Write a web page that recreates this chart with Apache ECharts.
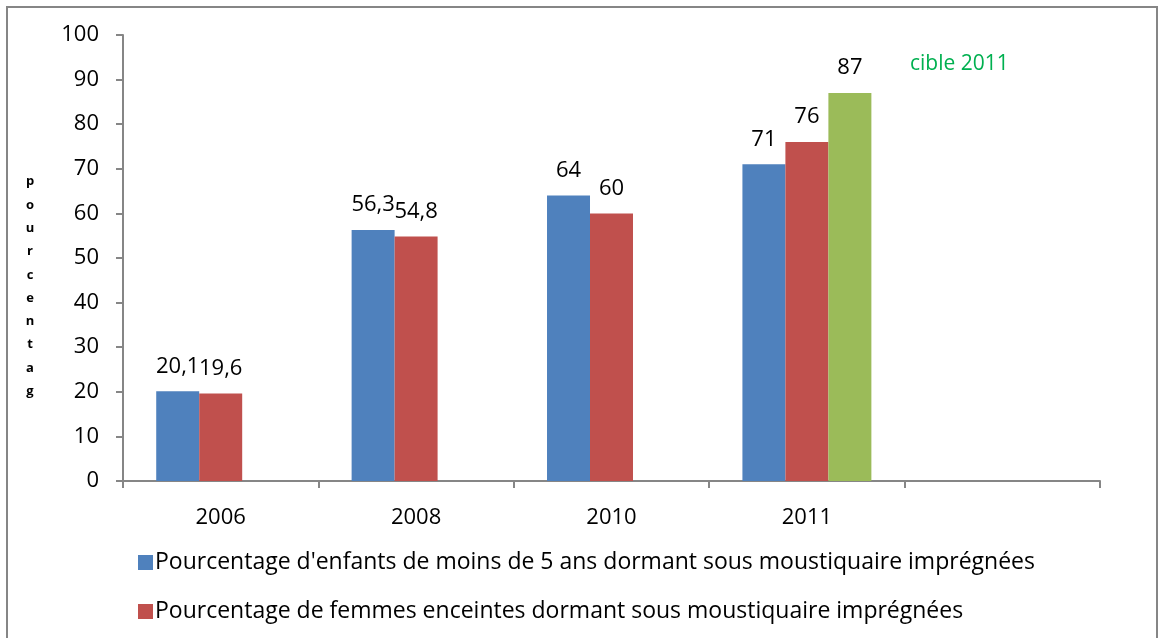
<!DOCTYPE html>
<html>
<head>
<meta charset="utf-8">
<script src="https://cdn.jsdelivr.net/npm/echarts@6/dist/echarts.min.js"></script>
<style>
  html, body { margin: 0; padding: 0; background: #fff; }
  #chart { width: 1159px; height: 638px; }
</style>
</head>
<body>
<div id="chart"></div>
<script>
const years = ['2006', '2008', '2010', '2011', '']
const enfants = [20.1, 56.3, 64, 71, null]
const femmes = [19.6, 54.8, 60, 76, null]
const cible = [null, null, null, 87, null]
const yTicks = { min: 0, max: 100, interval: 10 }

const nameEnfants = "Pourcentage d'enfants de moins de 5 ans dormant sous moustiquaire imprégnées"
const nameFemmes = 'Pourcentage de femmes enceintes dormant sous moustiquaire imprégnées'

const font = '"Open Sans", sans-serif'
const axisGray = '#868686'

const chart = echarts.init(document.getElementById('chart'))

const barLabel = {
  show: true,
  position: 'top',
  distance: 14,
  color: '#000',
  fontFamily: font,
  fontSize: 22,
  formatter: p => String(p.value).replace('.', ',')
}

const option = {
  animation: false,
  grid: { left: 123, right: 59, top: 35, bottom: 157 },
  graphic: [
    {
      type: 'rect',
      shape: { x: 7, y: 7, width: 1150, height: 660 },
      style: { fill: 'none', stroke: axisGray, lineWidth: 2 },
      silent: true
    },
    {
      type: 'text',
      x: 30,
      y: 170,
      style: {
        text: 'pourcentag'.split('').join('\n'),
        font: 'bold 13px ' + font,
        lineHeight: 23.3,
        textAlign: 'center',
        fill: '#000'
      }
    },
    {
      type: 'text',
      x: 910,
      y: 54,
      style: {
        text: 'cible 2011',
        font: '21px ' + font,
        fill: '#00B050'
      }
    }
  ],
  legend: {
    data: [nameEnfants, nameFemmes],
    orient: 'vertical',
    left: 133,
    top: 546,
    itemWidth: 15,
    itemHeight: 15,
    itemGap: 26,
    icon: 'rect',
    textStyle: { fontFamily: font, fontSize: 23, color: '#000', padding: [0, 0, 0, -3] }
  },
  xAxis: {
    type: 'category',
    data: years,
    axisLine: { lineStyle: { color: axisGray, width: 2 } },
    axisTick: { show: true, length: 7, lineStyle: { color: axisGray, width: 2 } },
    axisLabel: { color: '#000', fontFamily: font, fontSize: 22, margin: 26 }
  },
  yAxis: {
    type: 'value',
    min: yTicks.min,
    max: yTicks.max,
    interval: yTicks.interval,
    axisLine: { show: true, lineStyle: { color: axisGray, width: 2 } },
    axisTick: { show: true, length: 7, lineStyle: { color: axisGray, width: 2 } },
    splitLine: { show: false },
    axisLabel: { color: '#000', fontFamily: font, fontSize: 22, margin: 24 }
  },
  series: [
    {
      name: nameEnfants,
      type: 'bar',
      data: enfants,
      barGap: 0,
      barCategoryGap: '34%',
      itemStyle: { color: '#4F81BD' },
      label: barLabel
    },
    {
      name: nameFemmes,
      type: 'bar',
      data: femmes,
      itemStyle: { color: '#C0504D' },
      label: barLabel
    },
    {
      name: 'cible 2011',
      type: 'bar',
      data: cible,
      itemStyle: { color: '#9BBB59' },
      label: barLabel
    }
  ]
}

chart.setOption(option)
</script>
</body>
</html>
